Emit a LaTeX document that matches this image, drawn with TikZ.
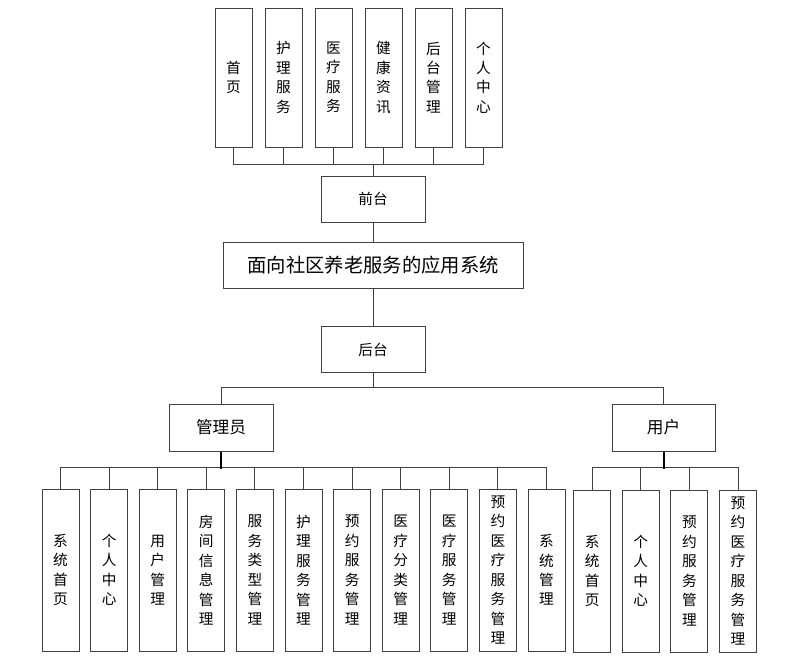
\documentclass[tikz,border=0pt]{standalone}
\usepackage{fontspec}
\newfontfamily\cjk{Noto Sans CJK SC}
\usetikzlibrary{positioning}
\newcommand{\pxu}{0.75pt}

\begin{document}
\begin{tikzpicture}[x=\pxu, y=-\pxu,
    box/.style={draw=black!75, line width=\pxu, inner sep=0pt, align=center,
        font=\cjk\fontsize{11}{14.6}\selectfont},
    tallbox/.style={box, minimum width=37*\pxu, minimum height=162*\pxu},
    topbox/.style={box, minimum width=37*\pxu, minimum height=139*\pxu},
    midbox/.style={box, minimum width=104*\pxu, minimum height=46*\pxu},
    rolebox/.style={box, minimum width=104*\pxu, minimum height=47*\pxu,
        font=\cjk\fontsize{12.5}{15}\selectfont},
    link/.style={draw=black!75, line width=\pxu},
    stem/.style={draw=black, line width=2*\pxu}
]
    \useasboundingbox (0,0) rectangle (810,662);

    % front end
    \node[midbox] (front) at (373,199) {前台};
    \foreach \t [count=\i from 0] in {{首\\页},{护\\理\\服\\务},{医\\疗\\服\\务},
            {健\\康\\资\\讯},{后\\台\\管\\理},{个\\人\\中\\心}} {
        \node[topbox] (top\i) at (233.5+50*\i,77.5) {\t};
        \draw[link] (top\i.south) -- ++(0,17) -| (front.north);
    }

    % system
    \node[box, minimum width=300*\pxu, minimum height=46*\pxu,
        font=\cjk\fontsize{14.5}{17}\selectfont] (sys) at (373,265) {面向社区养老服务的应用系统};
    \draw[link] (front.south) -- (sys.north);

    % back end
    \node[midbox] (back) at (373,349.5) {后台};
    \draw[link] (sys.south) -- (back.north);

    \node[rolebox] (admin) at (221,427.5) {管理员};
    \node[rolebox, minimum width=103*\pxu] (user) at (663.5,427.5) {用户};
    \draw[link] (back.south) -- ++(0,14) -| (admin.north);
    \draw[link] (back.south) -- ++(0,14) -| (user.north);

    % admin modules
    \foreach \t [count=\i from 0] in {{系\\统\\首\\页},{个\\人\\中\\心},{用\\户\\管\\理},
            {房\\间\\信\\息\\管\\理},{服\\务\\类\\型\\管\\理},{护\\理\\服\\务\\管\\理},
            {预\\约\\服\\务\\管\\理},{医\\疗\\分\\类\\管\\理},{医\\疗\\服\\务\\管\\理},
            {预\\约\\医\\疗\\服\\务\\管\\理},{系\\统\\管\\理}} {
        \node[tallbox] (adm\i) at (60.5+48.6*\i,570) {\t};
        \draw[link] (adm\i.north) -- ++(0,-21) -| (admin.south);
    }
    \draw[stem] (admin.south) -- ++(0,17);

    % user modules
    \foreach \t [count=\i from 0] in {{系\\统\\首\\页},{个\\人\\中\\心},
            {预\\约\\服\\务\\管\\理},{预\\约\\医\\疗\\服\\务\\管\\理}} {
        \node[tallbox] (usr\i) at (592.2+48.6*\i,571) {\t};
        \draw[link] (usr\i.north) -- ++(0,-22) -| (user.south);
    }
    \draw[stem] (user.south) -- ++(0,17);
\end{tikzpicture}
\end{document}
